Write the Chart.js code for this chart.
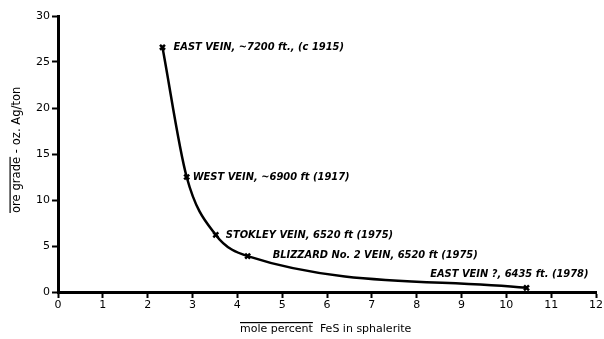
<!DOCTYPE html>
<html>
<head>
<meta charset="utf-8">
<script src="https://cdn.jsdelivr.net/npm/chart.js@4/dist/chart.umd.min.js"></script>
<style>
html,body{margin:0;padding:0;background:#fff;}
#wrap{width:604px;height:339px;position:relative;}
</style>
</head>
<body>
<div id="wrap"><canvas id="c" width="604" height="339"></canvas></div>
<script>
// ---- data ----
const feS = [2.33, 2.87, 3.52, 4.23, 10.45];          // mole percent FeS in sphalerite
const oreGrade = [26.6, 12.5, 6.2, 3.9, 0.45];         // oz. Ag/ton
const pointLabels = [
  "EAST VEIN, \u223C7200 ft., (c 1915)",
  "WEST VEIN, \u223C6900 ft (1917)",
  "STOKLEY VEIN, 6520 ft (1975)",
  "BLIZZARD No. 2 VEIN, 6520 ft (1975)",
  "EAST VEIN ?, 6435 ft. (1978)"
];
const xTicks = [0,1,2,3,4,5,6,7,8,9,10,11,12];
const yTicks = [0,5,10,15,20,25,30];
const xTitleOver = "mole percent";
const xTitleRest = "  FeS in sphalerite";
const yTitleOver = "ore grade";
const yTitleRest = " - oz. Ag/ton";

// label placement (pixel offsets from each marker, alignment)
const labelOffsets = [[11,0,'left'],[6,0,'left'],[10,0,'left'],[25,-1,'left'],[62,-14,'right']];

const labelPlugin = {
  id: 'labels',
  afterDatasetsDraw(chart) {
    const ctx = chart.ctx;
    const meta = chart.getDatasetMeta(0);
    ctx.save();
    ctx.fillStyle = '#000';
    ctx.font = 'italic bold 11px "DejaVu Sans Condensed", "DejaVu Sans"';
    ctx.textBaseline = 'middle';
    meta.data.forEach((pt, i) => {
      const [dx, dy, al] = labelOffsets[i];
      ctx.textAlign = al;
      ctx.fillText(pointLabels[i], pt.x + dx, pt.y + dy);
    });
    ctx.textAlign = 'left';
    // axis titles with overline
    ctx.font = '11px "DejaVu Sans"';
    ctx.textBaseline = 'alphabetic';
    const xs = 240, ys = 332;
    ctx.fillText(xTitleOver + xTitleRest, xs, ys);
    const wO = ctx.measureText(xTitleOver).width;
    ctx.fillRect(xs, ys - 10, wO, 1.2);
    // y title rotated
    ctx.font = '11.6px "DejaVu Sans"';
    ctx.translate(20, 213);
    ctx.rotate(-Math.PI/2);
    ctx.fillText(yTitleOver + yTitleRest, 0, 0);
    const wY = ctx.measureText(yTitleOver).width;
    ctx.fillRect(0, -10.5, wY, 1.2);
    ctx.restore();
  }
};

new Chart(document.getElementById('c'), {
  type: 'scatter',
  data: {
    datasets: [{
      data: feS.map((x, i) => ({x, y: oreGrade[i]})),
      showLine: true,
      cubicInterpolationMode: 'monotone',
      borderColor: '#000',
      borderWidth: 2.5,
      pointStyle: 'crossRot',
      pointRadius: 3.5,
      pointBorderWidth: 2.5,
      pointBorderColor: '#000',
      pointBackgroundColor: '#000'
    }]
  },
  options: {
    responsive: false,
    animation: false,
    events: [],
    layout: { padding: { left: 0, right: 6, top: 16, bottom: 0 } },
    plugins: { legend: { display: false }, tooltip: { enabled: false } },
    scales: {
      x: {
        type: 'linear', min: 0, max: 12,
        afterBuildTicks: s => { s.ticks = xTicks.map(v => ({value: v})); },
        afterFit: s => { s.height = 47; },
        grid: { display: true, drawOnChartArea: false, drawTicks: true, tickLength: 6, tickWidth: 2, color: '#000' },
        border: { display: true, color: '#000', width: 3 },
        ticks: { color: '#000', font: { family: '"DejaVu Sans"', size: 11 }, padding: 1, maxRotation: 0 }
      },
      y: {
        type: 'linear', min: 0, max: 30,
        afterBuildTicks: s => { s.ticks = yTicks.map(v => ({value: v})); },
        afterFit: s => { s.width = 58; },
        grid: { display: true, drawOnChartArea: false, drawTicks: true, tickLength: 6, tickWidth: 2, color: '#000' },
        border: { display: true, color: '#000', width: 3 },
        ticks: { color: '#000', font: { family: '"DejaVu Sans"', size: 11 }, padding: 2 }
      }
    }
  },
  plugins: [labelPlugin]
});
</script>
</body>
</html>
